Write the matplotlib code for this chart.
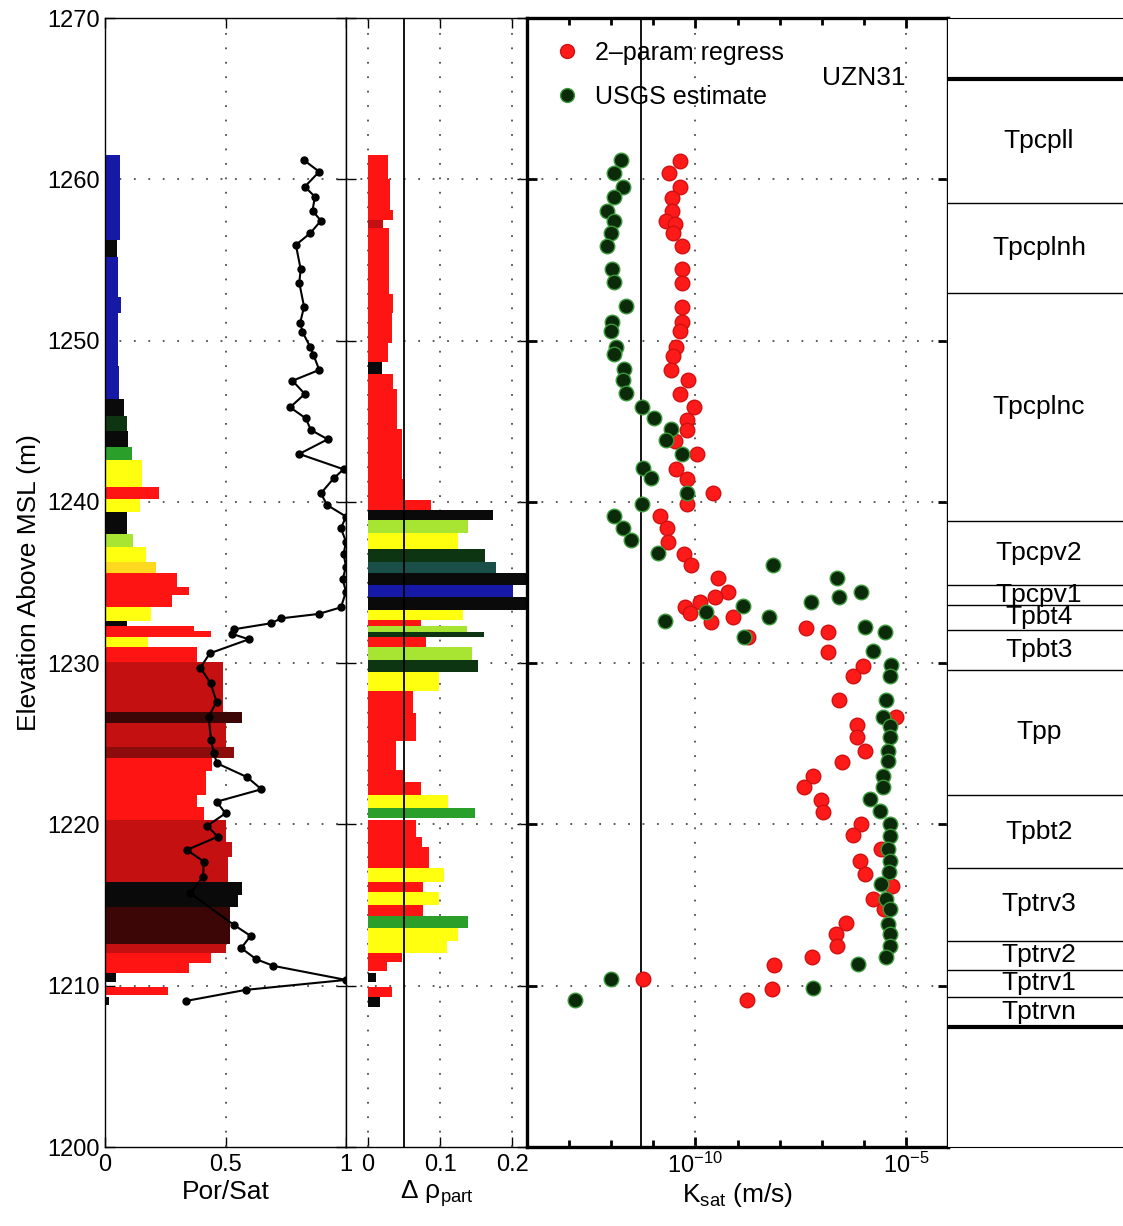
import matplotlib
matplotlib.use("Agg")
import matplotlib.pyplot as plt
import matplotlib.transforms as mtransforms
from matplotlib.ticker import FixedLocator, NullFormatter
from matplotlib.lines import Line2D
import numpy as np

plt.rcParams['font.family'] = ['Liberation Sans', 'DejaVu Sans']
plt.rcParams['mathtext.fontset'] = 'custom'
plt.rcParams['mathtext.rm'] = 'Liberation Sans'
plt.rcParams['mathtext.it'] = 'Liberation Sans:italic'
plt.rcParams['mathtext.bf'] = 'Liberation Sans:bold'

# ---------------- data ----------------
# Panel 1: porosity bars (top, bottom, porosity, category)
por_top = [1261.5, 1256.24, 1255.2, 1252.7, 1251.7, 1248.4, 1246.4, 1245.3, 1244.4, 1243.4,
           1242.6, 1240.9, 1240.2, 1239.4, 1238.0, 1237.2, 1236.3, 1235.6, 1234.7, 1234.2,
           1233.5, 1232.6, 1232.3, 1232.0, 1231.6, 1231.0, 1230.1, 1227.0, 1226.3, 1224.8,
           1224.1, 1223.3, 1221.8, 1221.1, 1220.3, 1218.9, 1218.0, 1216.4, 1215.6, 1214.9,
           1212.6, 1212.0, 1211.4, 1210.8, 1209.9, 1209.3]
por_bot = [1256.24, 1255.2, 1252.7, 1251.7, 1248.4, 1246.4, 1245.3, 1244.4, 1243.4, 1242.6,
           1240.9, 1240.2, 1239.4, 1238.0, 1237.2, 1236.3, 1235.6, 1234.7, 1234.2, 1233.5,
           1232.6, 1232.3, 1232.0, 1231.6, 1231.0, 1230.1, 1227.0, 1226.3, 1224.8, 1224.1,
           1223.3, 1221.8, 1221.1, 1220.3, 1218.9, 1218.0, 1216.4, 1215.6, 1214.9, 1212.6,
           1212.0, 1211.4, 1210.8, 1210.2, 1209.4, 1208.8]
por_val = [0.062, 0.050, 0.056, 0.065, 0.052, 0.058, 0.080, 0.090, 0.095, 0.110,
           0.155, 0.225, 0.145, 0.090, 0.115, 0.170, 0.210, 0.300, 0.350, 0.280,
           0.190, 0.090, 0.370, 0.440, 0.180, 0.380, 0.490, 0.570, 0.500, 0.535,
           0.445, 0.420, 0.380, 0.410, 0.500, 0.525, 0.510, 0.570, 0.550, 0.520,
           0.500, 0.440, 0.350, 0.045, 0.260, 0.015]
por_cat = ['blue', 'black', 'blue', 'blue', 'blue', 'blue', 'black', 'dkgreen', 'black', 'green',
           'yellow', 'red', 'yellow', 'black', 'ltgreen', 'yellow', 'orange', 'red', 'red', 'red',
           'yellow', 'black', 'red', 'red', 'yellow', 'red', 'dkred', 'blkred', 'dkred', 'dkred2',
           'red', 'red', 'red', 'red', 'dkred', 'dkred', 'dkred', 'black', 'black', 'blkred',
           'dkred', 'red', 'red', 'black', 'red', 'black']

# Panel 1: saturation profile
sat_elev = [1261.20, 1260.47, 1259.54, 1258.92, 1258.05, 1257.43, 1256.65, 1255.93, 1254.42, 1253.59,
            1252.10, 1251.11, 1250.55, 1249.62, 1249.11, 1248.18, 1247.51, 1246.69, 1245.86, 1245.18,
            1244.46, 1243.88, 1242.97, 1242.02, 1241.46, 1240.53, 1239.81, 1239.09, 1238.36, 1237.53,
            1236.77, 1235.98, 1235.20, 1234.43, 1233.46, 1233.05, 1232.78, 1232.47, 1232.10, 1231.81,
            1231.48, 1230.61, 1229.72, 1228.75, 1227.61, 1226.68, 1225.24, 1224.41, 1223.79, 1222.93,
            1222.18, 1221.41, 1220.69, 1219.91, 1219.24, 1218.42, 1217.69, 1216.76, 1215.73, 1213.77,
            1213.09, 1212.33, 1211.64, 1211.23, 1210.36, 1209.74, 1209.06]
sat_val = [0.824, 0.889, 0.829, 0.871, 0.861, 0.896, 0.851, 0.792, 0.812, 0.806,
           0.826, 0.810, 0.819, 0.851, 0.865, 0.889, 0.778, 0.829, 0.768, 0.833,
           0.854, 0.924, 0.806, 0.990, 0.949, 0.896, 0.921, 1.000, 0.979, 1.000,
           0.990, 1.000, 0.986, 1.000, 0.979, 0.886, 0.732, 0.688, 0.535, 0.528,
           0.597, 0.435, 0.396, 0.438, 0.463, 0.430, 0.440, 0.451, 0.465, 0.590,
           0.649, 0.463, 0.500, 0.424, 0.468, 0.340, 0.410, 0.407, 0.354, 0.535,
           0.604, 0.565, 0.628, 0.699, 1.000, 0.583, 0.338]

# Panel 2: particle density difference bars
rho_top = [1261.5, 1260.0, 1258.1, 1257.5, 1257.0, 1252.9, 1251.7, 1249.85, 1248.7, 1247.9,
           1247.0, 1244.5, 1241.4, 1240.1, 1239.5, 1238.9, 1238.1, 1237.1, 1236.3, 1235.6,
           1234.85, 1234.1, 1233.3, 1232.7, 1232.3, 1231.9, 1231.6, 1231.0, 1230.2, 1229.45,
           1228.3, 1226.9, 1225.2, 1223.4, 1222.6, 1221.8, 1221.0, 1220.3, 1219.2, 1218.6,
           1217.3, 1216.4, 1215.8, 1215.0, 1214.3, 1213.6, 1212.8, 1212.0, 1211.5, 1210.8,
           1209.9, 1209.3]
rho_bot = [1260.0, 1258.1, 1257.5, 1257.0, 1252.9, 1251.7, 1249.85, 1248.7, 1247.9, 1247.0,
           1244.5, 1241.4, 1240.1, 1239.5, 1238.9, 1238.1, 1237.1, 1236.3, 1235.6, 1234.85,
           1234.1, 1233.3, 1232.7, 1232.3, 1231.9, 1231.6, 1231.0, 1230.2, 1229.45, 1228.3,
           1226.9, 1225.2, 1223.4, 1222.6, 1221.8, 1221.0, 1220.4, 1219.2, 1218.6, 1217.3,
           1216.4, 1215.8, 1215.0, 1214.3, 1213.6, 1212.8, 1212.0, 1211.5, 1210.9, 1210.2,
           1209.3, 1208.7]
rho_val = [0.028, 0.031, 0.034, 0.021, 0.029, 0.035, 0.033, 0.028, 0.019, 0.035,
           0.040, 0.047, 0.049, 0.087, 0.174, 0.139, 0.125, 0.162, 0.178, 0.230,
           0.202, 0.230, 0.132, 0.074, 0.137, 0.161, 0.081, 0.144, 0.153, 0.099,
           0.063, 0.067, 0.039, 0.050, 0.074, 0.111, 0.149, 0.067, 0.075, 0.084,
           0.106, 0.077, 0.099, 0.076, 0.139, 0.125, 0.110, 0.047, 0.026, 0.011,
           0.033, 0.017]
rho_cat = ['red', 'red', 'red', 'dkred', 'red', 'red', 'red', 'red', 'black', 'red',
           'red', 'red', 'red', 'red', 'black', 'ltgreen', 'yellow', 'dkgreen', 'teal', 'black',
           'blue', 'black', 'yellow', 'red', 'ltgreen', 'dkgreen', 'red', 'ltgreen', 'dkgreen', 'yellow',
           'red', 'red', 'red', 'red', 'red', 'yellow', 'green', 'red', 'red', 'red',
           'yellow', 'red', 'yellow', 'red', 'green', 'yellow', 'yellow', 'red', 'red', 'black',
           'red', 'black']

# Panel 3: saturated hydraulic conductivity, log10(m/s)
reg_elev = [1261.13, 1260.41, 1259.53, 1258.82, 1258.04, 1257.42, 1257.22, 1256.64, 1255.88, 1254.43,
            1253.55, 1252.10, 1251.13, 1250.62, 1249.63, 1249.07, 1248.19, 1247.53, 1246.70, 1245.88,
            1245.09, 1244.43, 1243.75, 1242.99, 1242.06, 1241.44, 1240.58, 1239.84, 1239.11, 1238.39,
            1237.53, 1236.74, 1236.07, 1235.27, 1234.42, 1234.07, 1233.80, 1233.49, 1233.10, 1232.56,
            1232.87, 1231.59, 1232.15, 1231.94, 1230.70, 1229.83, 1229.21, 1227.71, 1226.63, 1226.18,
            1225.39, 1224.57, 1223.84, 1223.02, 1222.29, 1221.51, 1220.79, 1220.02, 1219.34, 1218.47,
            1217.75, 1216.92, 1216.20, 1215.37, 1214.75, 1213.88, 1213.20, 1212.48, 1211.76, 1211.28,
            1210.41, 1209.79, 1209.13]
reg_logk = [-10.36, -10.63, -10.36, -10.55, -10.55, -10.69, -10.49, -10.53, -10.31, -10.33,
            -10.33, -10.33, -10.33, -10.37, -10.45, -10.53, -10.59, -10.17, -10.37, -10.03,
            -10.20, -10.20, -10.48, -9.96, -10.45, -10.21, -9.58, -10.21, -10.85, -10.67,
            -10.65, -10.28, -10.10, -9.47, -9.23, -9.53, -9.88, -10.24, -10.12, -9.63,
            -9.11, -8.74, -7.37, -6.86, -6.86, -6.03, -6.26, -6.60, -5.24, -6.15,
            -6.17, -5.97, -6.52, -7.20, -7.42, -7.02, -6.96, -6.07, -6.26, -5.60,
            -6.09, -5.97, -5.32, -5.77, -5.52, -6.42, -6.66, -6.64, -7.24, -8.13,
            -11.24, -8.18, -8.78]
usgs_elev = [1261.18, 1260.41, 1259.53, 1258.91, 1258.04, 1257.42, 1256.70, 1255.88, 1254.43, 1253.61,
             1252.12, 1251.13, 1250.62, 1249.63, 1249.18, 1248.25, 1247.57, 1246.76, 1245.88, 1245.20,
             1244.52, 1243.86, 1242.99, 1242.10, 1241.48, 1240.58, 1239.84, 1239.11, 1238.39, 1237.63,
             1236.80, 1236.10, 1235.31, 1234.44, 1234.13, 1233.80, 1233.55, 1233.18, 1232.89, 1232.62,
             1232.21, 1231.96, 1231.65, 1230.76, 1229.88, 1229.21, 1227.73, 1226.69, 1226.12, 1225.39,
             1224.57, 1223.95, 1223.02, 1222.29, 1221.57, 1220.85, 1220.02, 1219.30, 1218.47, 1217.75,
             1217.02, 1216.30, 1215.37, 1214.75, 1213.82, 1213.20, 1212.48, 1211.76, 1211.34, 1210.41,
             1209.83, 1209.13]
usgs_logk = [-11.76, -11.94, -11.72, -11.94, -12.09, -11.94, -12.00, -12.09, -11.97, -11.93,
             -11.64, -11.97, -12.00, -11.88, -11.94, -11.69, -11.73, -11.65, -11.28, -10.98,
             -10.59, -10.70, -10.31, -11.24, -11.06, -10.19, -11.28, -11.94, -11.73, -11.52,
             -10.89, -8.16, -6.64, -6.07, -6.60, -7.26, -8.87, -9.74, -8.24, -10.73,
             -5.96, -5.50, -8.84, -5.79, -5.36, -5.38, -5.47, -5.55, -5.38, -5.38,
             -5.43, -5.42, -5.55, -5.55, -5.85, -5.62, -5.38, -5.38, -5.42, -5.38,
             -5.39, -5.58, -5.47, -5.38, -5.42, -5.38, -5.38, -5.47, -6.13, -12.01,
             -7.21, -12.86]
k_reference = 5e-12

# Panel 4: stratigraphic units
unit_bounds = [1266.2, 1258.5, 1252.95, 1238.8, 1234.85, 1233.6, 1232.06, 1229.6, 1221.8,
               1217.3, 1212.8, 1211.0, 1209.3, 1207.45]
unit_names = ['Tpcpll', 'Tpcplnh', 'Tpcplnc', 'Tpcpv2', 'Tpcpv1', 'Tpbt4', 'Tpbt3', 'Tpp',
              'Tpbt2', 'Tptrv3', 'Tptrv2', 'Tptrv1', 'Tptrvn']

y_ticks = [1200, 1210, 1220, 1230, 1240, 1250, 1260, 1270]

# ---------------- styles ----------------
cat_colors = {
    'blue': '#1618a6', 'black': '#0a0a0a', 'dkgreen': '#0d3512', 'green': '#2aa02a',
    'ltgreen': '#a8e432', 'yellow': '#ffff10', 'orange': '#ffd820', 'red': '#ff1414',
    'dkred': '#c41010', 'dkred2': '#8c0c0c', 'blkred': '#3c0606', 'teal': '#1a4e48',
}
GRID = dict(color='0.3', linestyle=(0, (1, 7)), linewidth=1.3)
FS_TICK = 17
FS_LAB = 19

W, H = 1123, 1226
fig = plt.figure(figsize=(W / 100, H / 100), dpi=100)
bot = 1 - 1147 / H
hgt = (1147 - 18) / H

def px(a, b):
    return [a / W, bot, (b - a) / W, hgt]

ax1 = fig.add_axes(px(105, 346))
ax2 = fig.add_axes(px(346, 527))
ax3 = fig.add_axes(px(527, 948))
ax4 = fig.add_axes(px(948, 1123))

for ax in (ax1, ax2, ax3, ax4):
    ax.set_ylim(1200, 1270)
    ax.set_yticks(y_ticks)
    ax.set_axisbelow(True)

# ---- Panel 1 ----
ax1.barh(por_bot, por_val, height=np.array(por_top) - np.array(por_bot), left=0,
         align='edge', color=[cat_colors[c] for c in por_cat], linewidth=0, zorder=2)
ax1.plot(sat_val, sat_elev, '-o', color='k', lw=1.5, ms=5, zorder=4, clip_on=False)
ax1.set_xlim(0, 1)
ax1.set_xticks([0, 0.5, 1])
ax1.set_xticklabels(['0', '0.5', '1'])
ax1.set_yticklabels([str(v) for v in y_ticks])
ax1.set_xlabel('Por/Sat', fontsize=FS_LAB, labelpad=3)
ax1.set_ylabel('Elevation Above MSL (m)', fontsize=FS_LAB, labelpad=5)
for v in y_ticks[1:-1]:
    ax1.axhline(v, zorder=1, **GRID)
ax1.axvline(0.5, zorder=1, **GRID)

# ---- Panel 2 ----
ax2.barh(rho_bot, rho_val, height=np.array(rho_top) - np.array(rho_bot), left=0,
         align='edge', color=[cat_colors[c] for c in rho_cat], linewidth=0, zorder=2)
ax2.set_xlim(-0.0306, 0.2208)
ax2.set_xticks([0, 0.1, 0.2])
ax2.set_xticklabels(['0', '0.1', '0.2'])
ax2.set_yticklabels([])
ax2.set_xlabel('Δ ρ$_{\\mathregular{part}}$', fontsize=FS_LAB, labelpad=2)
for v in y_ticks[1:-1]:
    ax2.axhline(v, zorder=1, **GRID)
for v in (0, 0.1, 0.2):
    ax2.axvline(v, zorder=1, **GRID)
ax2.axvline(0.05, color='k', lw=1.3, zorder=3)

# ---- Panel 3 ----
ax3.set_xscale('log')
ax3.set_xlim(1e-14, 1e-4)
for v in y_ticks[1:-1]:
    ax3.axhline(v, zorder=1, **GRID)
for v in (1e-10, 1e-5):
    ax3.axvline(v, zorder=1, **GRID)
ax3.axvline(k_reference, color='k', lw=1.3, zorder=2)
ax3.scatter(10.0 ** np.array(reg_logk), reg_elev, s=110, facecolor='#ff1a1a',
            edgecolor='#d01010', linewidth=1.0, zorder=3, clip_on=False)
ax3.scatter(10.0 ** np.array(usgs_logk), usgs_elev, s=110, facecolor='#0a2a0a',
            edgecolor='#3a9a3a', linewidth=1.0, zorder=4, clip_on=False)
ax3.xaxis.set_major_locator(FixedLocator([1e-10, 1e-5]))
ax3.set_xticklabels([r'$\mathregular{10^{-10}}$', r'$\mathregular{10^{-5}}$'])
ax3.xaxis.set_minor_locator(FixedLocator([10.0 ** e for e in range(-14, -3)]))
ax3.xaxis.set_minor_formatter(NullFormatter())
ax3.set_yticklabels([])
ax3.set_xlabel('K$_{\\mathregular{sat}}$ (m/s)', fontsize=FS_LAB, labelpad=2)
handles = [Line2D([], [], marker='o', ls='none', ms=10, mfc='#ff1a1a', mec='#d01010'),
           Line2D([], [], marker='o', ls='none', ms=10, mfc='#0a2a0a', mec='#3a9a3a')]
ax3.legend(handles, ['2–param regress', 'USGS estimate'], loc='upper left',
           bbox_to_anchor=(0.03, 0.995), frameon=False, fontsize=18,
           handlelength=0.8, handletextpad=0.7, labelspacing=0.78, borderpad=0.2)
ax3.text(0.80, 1266.3, 'UZN31', transform=mtransforms.blended_transform_factory(ax3.transAxes, ax3.transData),
         ha='center', va='center', fontsize=FS_LAB)
for s in ax3.spines.values():
    s.set_linewidth(2.4)
    s.set_zorder(5)

# ---- Panel 4 ----
ax4.set_xlim(0, 1)
ax4.set_xticks([])
ax4.set_yticks([])
ax4.spines['right'].set_visible(False)
ax4.spines['left'].set_visible(False)
for i, b in enumerate(unit_bounds):
    lw = 3.0 if i in (0, len(unit_bounds) - 1) else 1.0
    ax4.axhline(b, color='k', lw=lw)
mids = [(unit_bounds[i] + unit_bounds[i + 1]) / 2 for i in range(len(unit_names))]
for name, m in zip(unit_names, mids):
    ax4.text(0.52, m, name, ha='center', va='center', fontsize=FS_LAB)

# ---- common ticks ----
for ax in (ax1, ax2):
    ax.tick_params(axis='both', which='both', direction='in', top=True, right=True,
                   length=7, width=1.0, labelsize=FS_TICK)
    for s in ax.spines.values():
        s.set_linewidth(1.0)
ax3.tick_params(axis='both', which='major', direction='in', top=True, right=True,
                length=7, width=2.0, labelsize=FS_TICK)
ax3.tick_params(axis='x', which='minor', direction='in', top=True, bottom=True,
                length=5, width=2.0)
ax1.tick_params(axis='x', pad=5)
ax2.tick_params(axis='x', pad=5)
ax3.tick_params(axis='x', pad=4)

fig.savefig('out.png', dpi=100)
